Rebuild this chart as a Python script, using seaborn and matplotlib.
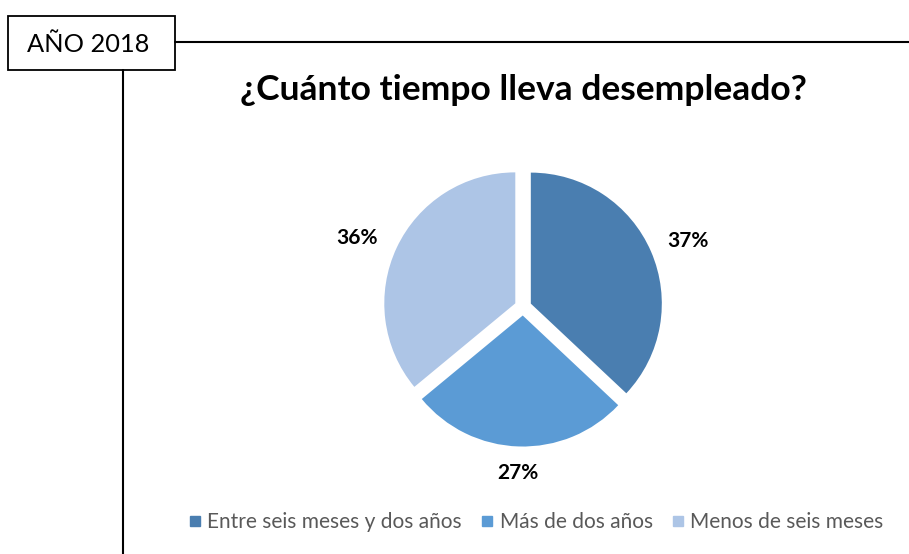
import numpy as np
import matplotlib
matplotlib.use("Agg")
import matplotlib.pyplot as plt
import seaborn as sns
from matplotlib.lines import Line2D
from matplotlib.patches import Rectangle

categories = ["Entre seis meses y dos años", "Más de dos años", "Menos de seis meses"]
values = [37, 27, 36]
colors = ["#4a7eb0", "#5b9bd5", "#adc5e6"]
title = "¿Cuánto tiempo lleva desempleado?"
year_label = "AÑO 2018"

sns.set_theme(style="white")
plt.rcParams["font.family"] = ["Lato", "DejaVu Sans"]

W, H = 909, 554
fig = plt.figure(figsize=(W / 100, H / 100), dpi=100)
fig.patch.set_facecolor("white")

# pie axes: center (523, 307) px, radius 131 px, data range +-1.2
cx, cy, R = 523, 307, 131
half = 1.2 * R
ax = fig.add_axes([(cx - half) / W, (H - cy - half) / H, 2 * half / W, 2 * half / H])

wedges, texts, autotexts = ax.pie(
    values, colors=colors, startangle=90, counterclock=False,
    explode=[0.065] * 3, radius=1.0,
    autopct=lambda p: f"{p:.0f}%", pctdistance=1.28,
    textprops=dict(fontsize=15, fontweight="bold", color="black"),
    wedgeprops=dict(linewidth=0),
)
ax.set_xlim(-1.2, 1.2)
ax.set_ylim(-1.2, 1.2)
ax.set_aspect("equal")
ax.axis("off")

label_dist = [1.29, 1.20, 1.31]
label_dang = [-1.7, 0.0, 2.8]
for w, t, d, da in zip(wedges, autotexts, label_dist, label_dang):
    ang = np.deg2rad((w.theta1 + w.theta2) / 2 + da)
    ox, oy = w.center
    t.set_position((ox + d * np.cos(ang), oy + d * np.sin(ang)))

# title
fig.text(523 / W, 1 - 90 / H, title, ha="center", va="center",
         fontsize=25.5, fontweight="bold", color="black")

# year box and lines
fig.add_artist(Rectangle((8 / W, 1 - 70 / H), 167 / W, 54 / H, transform=fig.transFigure,
                         facecolor="white", edgecolor="black", linewidth=1.3))
fig.text(88 / W, 1 - 44 / H, year_label, ha="center", va="center", fontsize=18.3, color="black")
fig.add_artist(Line2D([175 / W, 1.0], [1 - 42 / H, 1 - 42 / H], transform=fig.transFigure,
                      color="black", linewidth=1.5))
fig.add_artist(Line2D([123.5 / W, 123.5 / W], [1 - 70 / H, 0.0], transform=fig.transFigure,
                      color="black", linewidth=1.5))

# legend
handles = [Line2D([0], [0], marker="s", linestyle="", markersize=7,
                  markerfacecolor=c, markeredgecolor=c) for c in colors]
leg = fig.legend(handles, categories, loc="center", bbox_to_anchor=(536 / W, 1 - 522 / H),
                 ncol=3, frameon=False, fontsize=15, handlelength=0.6, handletextpad=0.3,
                 columnspacing=0.9, labelcolor="#595959")

fig.savefig("out.png", dpi=100)
